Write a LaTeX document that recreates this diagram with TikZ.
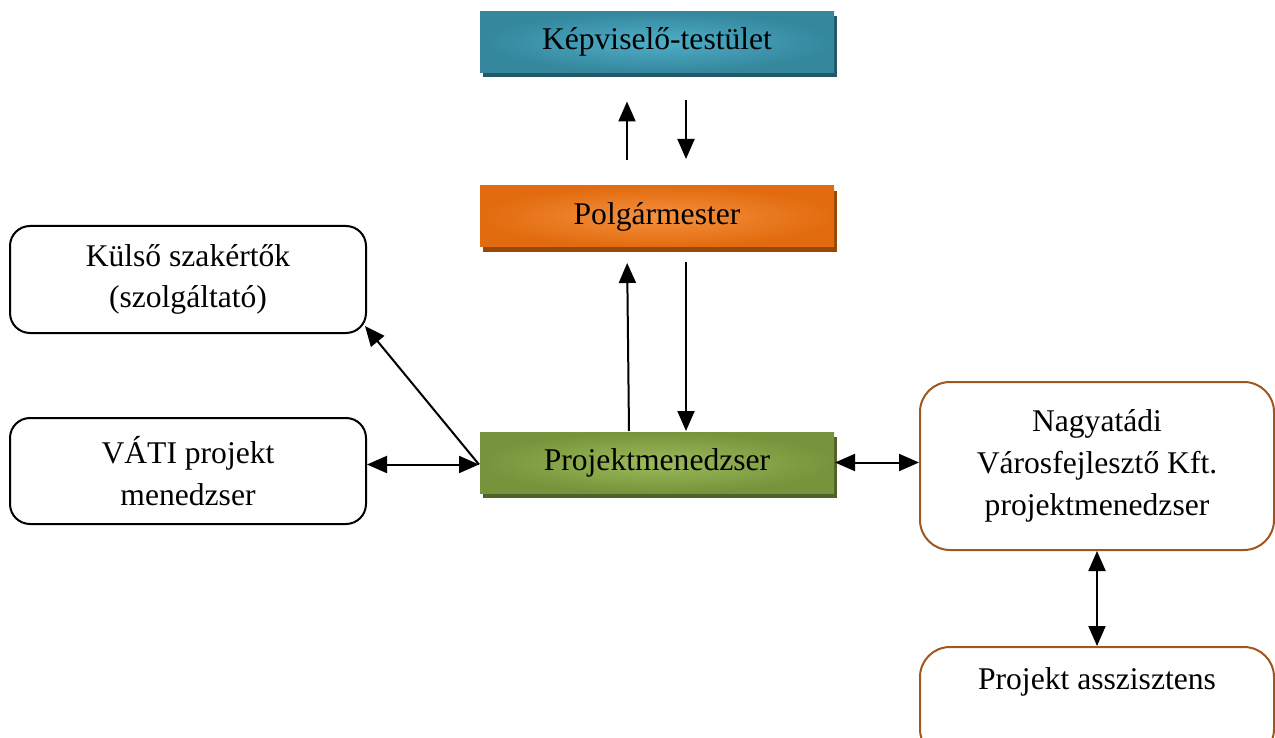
\documentclass[tikz,border=0pt]{standalone}
\usepackage{fontspec}
\setmainfont{Liberation Serif}
\usetikzlibrary{arrows.meta,shadows}
\definecolor{tealin}{HTML}{4FAEC8}
\definecolor{tealout}{HTML}{34879D}
\definecolor{tealshadow}{HTML}{215968}
\definecolor{orangein}{HTML}{F5913F}
\definecolor{orangeout}{HTML}{E26B0F}
\definecolor{orangeshadow}{HTML}{984807}
\definecolor{greenin}{HTML}{9BBB59}
\definecolor{greenout}{HTML}{77933C}
\definecolor{greenshadow}{HTML}{4F6228}
\definecolor{brownline}{HTML}{A0561E}

\begin{document}
\begin{tikzpicture}[x=1pt, y=-1pt, line width=2pt,
  font=\fontsize{31.6}{41.7}\selectfont,
  tip/.style={-{Triangle[length=20pt,width=17pt]}},
  bothtip/.style={{Triangle[length=20pt,width=17pt]}-{Triangle[length=20pt,width=17pt]}},
  bar/.style={minimum width=354pt, minimum height=61pt},
  roundbox/.style={draw, rounded corners=20pt, minimum width=356pt, align=center}]
\useasboundingbox (0,0) rectangle (1275,738);
\node[bar, inner color=tealin, outer color=tealout, general shadow={fill=tealshadow, shadow xshift=3pt, shadow yshift=-5pt}] (kepviselo) at (657,42) {Képviselő-testület};
\node[bar, inner color=orangein, outer color=orangeout, general shadow={fill=orangeshadow, shadow xshift=3pt, shadow yshift=-5pt}] (polgarmester) at (657,216.5) {Polgármester};
\node[bar, inner color=greenin, outer color=greenout, general shadow={fill=greenshadow, shadow xshift=3pt, shadow yshift=-5pt}] (projekt) at (657,462.5) {Projektmenedzser};
\node[roundbox, minimum height=107pt] (kulso) at (188,279.5) {Külső szakértők\\(szolgáltató)};
\node[roundbox, minimum height=106pt] (vati) at (188,471) {VÁTI projekt\\menedzser};
\node[roundbox, draw=brownline, rounded corners=30pt, minimum width=354pt, minimum height=168pt] (nagyatadi) at (1097,466) {Nagyatádi\\Városfejlesztő Kft.\\projektmenedzser};
\node[roundbox, draw=brownline, rounded corners=30pt, minimum width=354pt, inner sep=0pt, text height=42pt, text depth=70pt, anchor=north] (asszisztens) at (1097,646) {Projekt asszisztens};
\coordinate (pmw) at ([yshift=-2pt]projekt.west);
\draw[tip, shorten <=25pt, shorten >=28pt] ([xshift=-30pt]polgarmester.north) -- ([xshift=-30pt]kepviselo.south);
\draw[tip, shorten <=27pt, shorten >=26pt] ([xshift=29pt]kepviselo.south) -- ([xshift=29pt]polgarmester.north);
\draw[tip, shorten >=15pt] ([xshift=-28pt]projekt.north) -- ([xshift=-30pt]polgarmester.south);
\draw[tip, shorten <=14pt] ([xshift=29pt]polgarmester.south) -- ([xshift=29pt]projekt.north);
\draw[tip] (pmw) -- ([xshift=-2pt,yshift=8pt]kulso.south east);
\draw[bothtip] (vati.east |- pmw) -- (pmw);
\draw[bothtip] (projekt.east) -- (nagyatadi.west |- projekt.east);
\draw[bothtip] (nagyatadi.south) -- (asszisztens.north);
\end{tikzpicture}
\end{document}
